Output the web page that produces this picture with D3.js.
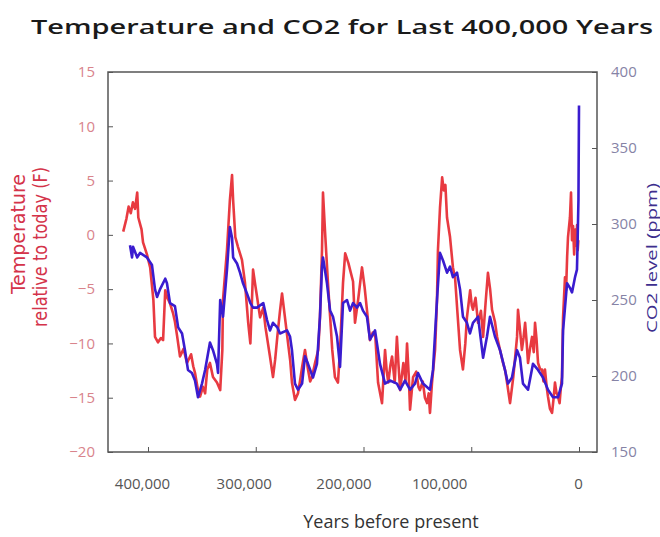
<!DOCTYPE html>
<html><head><meta charset="utf-8">
<script src="https://cdn.jsdelivr.net/npm/d3@7/dist/d3.min.js"></script>
<style>
html,body{margin:0;padding:0;background:#fff;}
svg{display:block;}
</style></head>
<body><svg id="c" width="660" height="537"></svg>
<script>
// ---- data (years before present in thousands, temperature °F rel. today, CO2 ppm) ----
const tempYears = [
  423,420,418,416,414,412,410,409,406,404.6,
  401,398,395,393.5,390.7,388,386,384,382,379.6,
  376.8,375,373,370.3,367,363.8,360,358,356.4,353.6,
  351.7,349,347,345,342.5,339.7,336,333,331,330.4,
  326.7,324,322,321,319,316.5,312.8,310,307,305,
  303.5,302.5,300.5,298.8,296,293,291,289.6,286.8,284,
  282,280,277.5,275.6,272.9,270,268,266.4,263.6,260.8,
  259,257,254.3,251.5,249.5,247.8,245,242,240.4,238.5,
  237.6,235.7,233,231,229,226.5,223.7,221.8,219,217,
  214,212.5,209.7,207.9,205,201.4,199,196.8,194,191.5,
  189,186.5,182.8,180,178.5,177,175,173.5,171,169,
  167.5,166,163,161,159.6,158,156.8,154,151,149,
  147.6,145,143,141,139.5,138.3,136.4,133.6,131.8,130.9,
  129,127,125.5,124,122.5,119.7,117,115,113,110.4,
  107.7,105.5,104,101,99.5,98.4,96,93.7,91,89,
  86.5,84.5,82.5,80.7,78,76,73.3,70.5,68.5,66.8,
  64,61,59,57.5,56.6,55,53,51.5,50,48.5,
  47.3,45.5,43.6,42,40.8,39.5,38,36,34.3,33,
  31.6,30,28.8,27,25,23.5,22.3,21,19.5,18,
  16.8,15.8,14.8,13,12,11,10.2,9.2,8.4,7.4,
  6.5,5.5,4.5,3.5,2.5,1.8,1.2,0.6];
const tempValues = [
  0.3,1.5,2.6,2.0,3.0,2.4,3.9,1.6,0.5,-0.7,
  -1.8,-3.0,-6.0,-9.4,-9.9,-9.5,-9.7,-5.1,-5.8,-6.3,
  -7.2,-8.0,-9.3,-11.2,-10.5,-11.8,-11.0,-12.1,-12.7,-14.3,
  -14.9,-14.0,-14.6,-12.4,-11.8,-13.1,-13.6,-14.3,-10.6,-6.0,
  -1.4,3.2,5.5,3.2,-0.2,-1.1,-2.3,-4.4,-8.1,-10.0,
  -6.0,-3.2,-4.6,-5.7,-7.6,-6.7,-8.5,-9.4,-11.2,-13.1,
  -11.5,-9.4,-7.0,-5.4,-7.6,-10.0,-11.6,-13.6,-15.2,-14.6,
  -13.5,-12.2,-10.6,-12.4,-13.5,-13.1,-11.8,-10.6,-7.6,-1.4,
  3.9,0.3,-4.4,-7.5,-10.6,-13.1,-13.6,-10.6,-4.4,-1.7,
  -2.6,-3.2,-4.3,-8.1,-6.0,-3.0,-4.8,-6.9,-9.7,-9.0,
  -9.4,-13.6,-15.5,-10.6,-12.5,-13.6,-12.0,-11.2,-13.6,-9.4,
  -12.0,-14.3,-11.8,-13.5,-10.0,-13.0,-16.1,-13.1,-12.6,-14.0,
  -14.3,-13.5,-15.0,-15.5,-14.6,-16.4,-13.6,-10.6,-6.0,-1.4,
  2.5,5.3,4.1,4.6,1.6,-0.2,-3.0,-4.0,-6.9,-10.6,
  -12.4,-10.0,-7.6,-5.1,-6.5,-6.9,-5.8,-8.1,-7.0,-9.4,
  -6.0,-3.5,-5.0,-6.9,-8.0,-9.4,-10.6,-11.8,-12.5,-13.6,
  -15.5,-13.1,-11.0,-9.4,-6.9,-8.5,-10.6,-9.5,-8.1,-10.0,
  -11.8,-10.5,-9.4,-10.8,-8.1,-9.5,-11.8,-12.4,-12.4,-13.5,
  -12.4,-14.0,-14.9,-16.0,-16.4,-15.0,-13.6,-14.5,-14.9,-15.5,
  -14.0,-13.1,-7.6,-3.9,-5.1,-2.0,-0.2,0.8,1.6,3.9,
  -0.5,0.8,-1.8,0.5,-1.0,0.9,-1.4,-0.5];
const co2Years = [416.7,414.8,413.9,410,407.4,401,396.3,393.5,391.6,388.9,384,382.4,379.6,375,372,368.4,365.7,362.9,359.2,356.4,353.6,349.9,347,342.5,339.7,336,335,333,330.4,326.7,324,322,321,317.4,314.6,311.8,308,305,302.5,298.8,293,289.6,286.8,284,280,277.5,271,268.2,266.4,263.6,260.8,257,254.3,251.5,246.9,243.2,240.4,238.5,237.6,233.9,231,228.3,224.6,221.8,219,215.3,212.5,209.7,206,203.2,200.5,196.8,194,189.3,184.7,180,175.4,169,166,161.5,156.8,152.2,149.4,144.8,138.3,135.5,131.8,129,126.2,122.5,119.7,117,113.2,110.4,107.7,104,101.2,98.4,93.7,89,85.4,82.6,78,73.3,68.7,65.9,62.2,57.5,54.8,52,47.3,42.7,38,33.4,28.8,24.1,19.5,15.8,14.8,11.1,8.4,6.5,3.7,1.9,1.4,0.5,0];
const co2Values = [286,278,285,278,281,278,273,257,252,257,264,261,248,246,232,228,217,204,202,197,186,195,204,222,217,208,202,250,239,270,298,291,278,274,268,261,254,248,245,245,248,237,230,235,232,228,230,226,217,195,191,195,213,208,199,208,239,272,278,261,243,239,226,206,248,250,243,248,245,248,243,239,224,230,208,195,197,195,191,197,191,195,202,195,191,204,250,281,276,268,272,265,268,257,239,235,228,235,239,212,226,239,226,217,204,195,199,217,212,195,191,208,204,199,191,186,186,195,230,261,258,255,265,270,285,316,378];
const xTicks = [400000,300000,200000,100000,0];
const tempTicks = [15,10,5,0,-5,-10,-15,-20];
const co2Ticks = [400,350,300,250,200,150];

// ---- layout ----
const L = 108, R = 597, T = 72, B = 452;
const svg = d3.select("#c");
const x = d3.scaleLinear().domain([400000, 0]).range([148, 579]);
const yT = d3.scaleLinear().domain([-20, 15]).range([B, T]);
const yC = d3.scaleLinear().domain([150, 400]).range([B, T]);
const labelFont = "'Open Sans', 'DejaVu Sans', sans-serif";

// title
svg.append("text").attr("x", 31).attr("y", 34)
  .attr("textLength", 622).attr("lengthAdjust", "spacingAndGlyphs")
  .style("font-family", labelFont).style("font-size", "20px").style("font-weight", 600)
  .style("fill", "#1a1a1a").text("Temperature and CO2 for Last 400,000 Years");

// lines
const tempData = tempYears.map((k, i) => [k * 1000, tempValues[i]]);
const co2Data = co2Years.map((k, i) => [k * 1000, co2Values[i]]);
svg.append("path").datum(tempData)
  .attr("d", d3.line().x(d => x(d[0])).y(d => yT(d[1])))
  .attr("fill", "none").attr("stroke", "#e5252c").attr("stroke-width", 2.6).attr("stroke-linejoin", "round")
  .attr("opacity", 0.9);
svg.append("path").datum(co2Data)
  .attr("d", d3.line().x(d => x(d[0])).y(d => yC(d[1])))
  .attr("fill", "none").attr("stroke", "#3a1ccf").attr("stroke-width", 2.6).attr("stroke-linejoin", "round");

// frame
svg.append("rect").attr("x", L).attr("y", T).attr("width", R - L).attr("height", B - T)
  .attr("fill", "none").attr("stroke", "#555").attr("stroke-width", 1.5);

// left axis
const gl = svg.append("g").attr("transform", `translate(${L},0)`)
  .call(d3.axisLeft(yT).tickValues(tempTicks).tickSize(-5).tickPadding(13));
gl.select(".domain").remove();
gl.selectAll("line").attr("stroke", "#555");
gl.selectAll("text").style("font-family", labelFont).style("font-size", "15px").style("fill", "#d9848c");

// right axis
const gr = svg.append("g").attr("transform", `translate(${R},0)`)
  .call(d3.axisRight(yC).tickValues(co2Ticks).tickSize(-5).tickPadding(14));
gr.select(".domain").remove();
gr.selectAll("line").attr("stroke", "#555");
gr.selectAll("text").style("font-family", labelFont).style("font-size", "15px").style("fill", "#8683a6");

// bottom axis
const nudge = {400000: -6, 300000: -12, 200000: -20, 100000: -32, 0: -1};
const gb = svg.append("g").attr("transform", `translate(0,${B})`)
  .call(d3.axisBottom(x).tickValues(xTicks).tickSize(-5).tickPadding(26).tickFormat(d3.format(",")));
gb.select(".domain").remove();
gb.selectAll("line").attr("stroke", "#555");
gb.selectAll("text").attr("dx", d => nudge[d])
  .style("font-family", labelFont).style("font-size", "15px").style("fill", "#555");

// axis titles
svg.append("text").attr("x", 391).attr("y", 528).attr("text-anchor", "middle")
  .style("font-family", labelFont).style("font-size", "18px").style("fill", "#333")
  .text("Years before present");
const narrow = "'Liberation Sans Narrow', 'DejaVu Sans Condensed', sans-serif";
svg.append("text").attr("transform", "translate(25,234) rotate(-90)").attr("text-anchor", "middle")
  .attr("textLength", 120).attr("lengthAdjust", "spacingAndGlyphs")
  .style("font-family", narrow).style("font-size", "19px").style("fill", "#d4334a").text("Temperature");
svg.append("text").attr("transform", "translate(47,247) rotate(-90)").attr("text-anchor", "middle")
  .attr("textLength", 160).attr("lengthAdjust", "spacingAndGlyphs")
  .style("font-family", narrow).style("font-size", "19px").style("fill", "#d4334a").text("relative to today (F)");
svg.append("text").attr("transform", "translate(657,258) rotate(-90)").attr("text-anchor", "middle")
  .attr("textLength", 150).attr("lengthAdjust", "spacingAndGlyphs")
  .style("font-family", labelFont).style("font-size", "15px").style("fill", "#3e2f8e").text("CO2 level (ppm)");
</script></body></html>
